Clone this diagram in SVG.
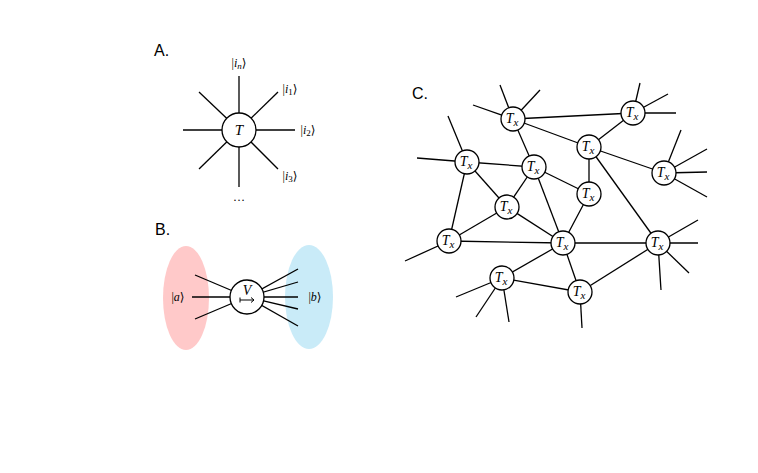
<svg xmlns="http://www.w3.org/2000/svg" width="758" height="473" viewBox="0 0 758 473">
<style>
.e{stroke:#000;stroke-width:1.3;fill:none}
.n{fill:#fff;stroke:#000;stroke-width:1.3}
.lab{font-family:"Liberation Sans",Arial,sans-serif;font-size:16px;fill:#000}
.m{font-family:"Liberation Serif","DejaVu Serif",serif;font-style:italic;fill:#000}
.k{font-family:"Liberation Serif","DejaVu Serif",serif;fill:#000;font-style:normal}
.tx{font-family:"Liberation Serif","DejaVu Serif",serif;font-style:italic;fill:#000;font-size:14px;text-anchor:middle}
.tx tspan{font-size:11px}
</style>
<rect width="758" height="473" fill="#fff"/>
<text class="lab" x="154" y="56">A.</text>
<text class="lab" x="155" y="235">B.</text>
<text class="lab" x="412" y="99">C.</text>

<ellipse id="blobA" cx="186" cy="298" rx="23" ry="52" fill="#ffc9c9"/>
<ellipse id="blobB" cx="309" cy="297" rx="24" ry="52" fill="#c9ebf8"/>

<g id="connectors">
<line class="e" x1="239" y1="130" x2="239" y2="76"/>
<line class="e" x1="239" y1="130" x2="239" y2="187"/>
<line class="e" x1="239" y1="130" x2="183" y2="130"/>
<line class="e" x1="239" y1="130" x2="295" y2="130"/>
<line class="e" x1="239" y1="130" x2="199" y2="92"/>
<line class="e" x1="239" y1="130" x2="278" y2="92"/>
<line class="e" x1="239" y1="130" x2="199" y2="169"/>
<line class="e" x1="239" y1="130" x2="278" y2="169"/>
<line class="e" x1="247" y1="297" x2="195" y2="275"/>
<line class="e" x1="247" y1="297" x2="192" y2="297"/>
<line class="e" x1="247" y1="297" x2="195" y2="319"/>
<line class="e" x1="247" y1="297" x2="298" y2="269"/>
<line class="e" x1="247" y1="297" x2="298" y2="282"/>
<line class="e" x1="247" y1="297" x2="298" y2="297"/>
<line class="e" x1="247" y1="297" x2="298" y2="309"/>
<line class="e" x1="247" y1="297" x2="298" y2="326"/>
<line class="e" x1="513" y1="119" x2="633" y2="113"/>
<line class="e" x1="513" y1="119" x2="589" y2="147"/>
<line class="e" x1="513" y1="119" x2="534" y2="167"/>
<line class="e" x1="589" y1="147" x2="633" y2="113"/>
<line class="e" x1="589" y1="147" x2="664" y2="173"/>
<line class="e" x1="589" y1="147" x2="589" y2="194"/>
<line class="e" x1="589" y1="147" x2="658" y2="243"/>
<line class="e" x1="467" y1="162" x2="534" y2="167"/>
<line class="e" x1="467" y1="162" x2="507" y2="207"/>
<line class="e" x1="467" y1="162" x2="449" y2="241"/>
<line class="e" x1="534" y1="167" x2="589" y2="194"/>
<line class="e" x1="534" y1="167" x2="507" y2="207"/>
<line class="e" x1="534" y1="167" x2="563" y2="243"/>
<line class="e" x1="589" y1="194" x2="563" y2="243"/>
<line class="e" x1="507" y1="207" x2="449" y2="241"/>
<line class="e" x1="507" y1="207" x2="563" y2="243"/>
<line class="e" x1="449" y1="241" x2="563" y2="243"/>
<line class="e" x1="563" y1="243" x2="658" y2="243"/>
<line class="e" x1="563" y1="243" x2="502" y2="278"/>
<line class="e" x1="563" y1="243" x2="580" y2="292"/>
<line class="e" x1="502" y1="278" x2="580" y2="292"/>
<line class="e" x1="580" y1="292" x2="658" y2="243"/>
<line class="e" x1="513" y1="119" x2="500" y2="85"/>
<line class="e" x1="513" y1="119" x2="540" y2="90"/>
<line class="e" x1="513" y1="119" x2="473" y2="105"/>
<line class="e" x1="633" y1="113" x2="640" y2="83"/>
<line class="e" x1="633" y1="113" x2="668" y2="94"/>
<line class="e" x1="633" y1="113" x2="676" y2="113"/>
<line class="e" x1="467" y1="162" x2="448" y2="116"/>
<line class="e" x1="467" y1="162" x2="417" y2="158"/>
<line class="e" x1="664" y1="173" x2="681" y2="130"/>
<line class="e" x1="664" y1="173" x2="707" y2="149"/>
<line class="e" x1="664" y1="173" x2="707" y2="172"/>
<line class="e" x1="664" y1="173" x2="707" y2="197"/>
<line class="e" x1="449" y1="241" x2="405" y2="261"/>
<line class="e" x1="658" y1="243" x2="698" y2="220"/>
<line class="e" x1="658" y1="243" x2="698" y2="243"/>
<line class="e" x1="658" y1="243" x2="689" y2="273"/>
<line class="e" x1="658" y1="243" x2="661" y2="290"/>
<line class="e" x1="502" y1="278" x2="456" y2="297"/>
<line class="e" x1="502" y1="278" x2="476" y2="317"/>
<line class="e" x1="502" y1="278" x2="509" y2="322"/>
<line class="e" x1="580" y1="292" x2="582" y2="328"/>
</g>

<g id="nodeT"><circle class="n" cx="239" cy="130" r="17"/><text class="m" x="239" y="135" font-size="15" text-anchor="middle">T</text></g>
<g id="labelsA" font-size="12">
<text class="k" x="239" y="67" text-anchor="middle">|<tspan class="m">i</tspan><tspan class="m" font-size="9" dy="2">n</tspan><tspan dy="-2">⟩</tspan></text>
<text class="k" x="290" y="93" text-anchor="middle">|<tspan class="m">i</tspan><tspan font-size="9" dy="2">1</tspan><tspan dy="-2">⟩</tspan></text>
<text class="k" x="308" y="134" text-anchor="middle">|<tspan class="m">i</tspan><tspan font-size="9" dy="2">2</tspan><tspan dy="-2">⟩</tspan></text>
<text class="k" x="290" y="180" text-anchor="middle">|<tspan class="m">i</tspan><tspan font-size="9" dy="2">3</tspan><tspan dy="-2">⟩</tspan></text>
<text class="k" x="239" y="201" text-anchor="middle">…</text>
</g>

<g id="nodeV"><circle class="n" cx="247" cy="297" r="17"/>
<text class="m" x="247" y="295" font-size="14" text-anchor="middle">V</text>
<path d="M240 297.5v5M240 300h14M251 297.5l3 2.5-3 2.5" stroke="#000" stroke-width="1" fill="none"/>
</g>
<text class="k" x="178" y="301" font-size="12" text-anchor="middle">|<tspan class="m">a</tspan>⟩</text>
<text class="k" x="315" y="301" font-size="12" text-anchor="middle">|<tspan class="m">b</tspan>⟩</text>

<g id="n1"><circle class="n" cx="513" cy="119" r="12"/><text class="tx" x="512" y="123">T<tspan dy="3">x</tspan></text></g>
<g id="n2"><circle class="n" cx="633" cy="113" r="12"/><text class="tx" x="632" y="117">T<tspan dy="3">x</tspan></text></g>
<g id="n3"><circle class="n" cx="589" cy="147" r="12"/><text class="tx" x="588" y="151">T<tspan dy="3">x</tspan></text></g>
<g id="n4"><circle class="n" cx="467" cy="162" r="12"/><text class="tx" x="466" y="166">T<tspan dy="3">x</tspan></text></g>
<g id="n5"><circle class="n" cx="534" cy="167" r="12"/><text class="tx" x="533" y="171">T<tspan dy="3">x</tspan></text></g>
<g id="n6"><circle class="n" cx="664" cy="173" r="12"/><text class="tx" x="663" y="177">T<tspan dy="3">x</tspan></text></g>
<g id="n7"><circle class="n" cx="589" cy="194" r="12"/><text class="tx" x="588" y="198">T<tspan dy="3">x</tspan></text></g>
<g id="n8"><circle class="n" cx="507" cy="207" r="12"/><text class="tx" x="506" y="211">T<tspan dy="3">x</tspan></text></g>
<g id="n9"><circle class="n" cx="449" cy="241" r="12"/><text class="tx" x="448" y="245">T<tspan dy="3">x</tspan></text></g>
<g id="n10"><circle class="n" cx="563" cy="243" r="12"/><text class="tx" x="562" y="247">T<tspan dy="3">x</tspan></text></g>
<g id="n11"><circle class="n" cx="658" cy="243" r="12"/><text class="tx" x="657" y="247">T<tspan dy="3">x</tspan></text></g>
<g id="n12"><circle class="n" cx="502" cy="278" r="12"/><text class="tx" x="501" y="282">T<tspan dy="3">x</tspan></text></g>
<g id="n13"><circle class="n" cx="580" cy="292" r="12"/><text class="tx" x="579" y="296">T<tspan dy="3">x</tspan></text></g>
</svg>
